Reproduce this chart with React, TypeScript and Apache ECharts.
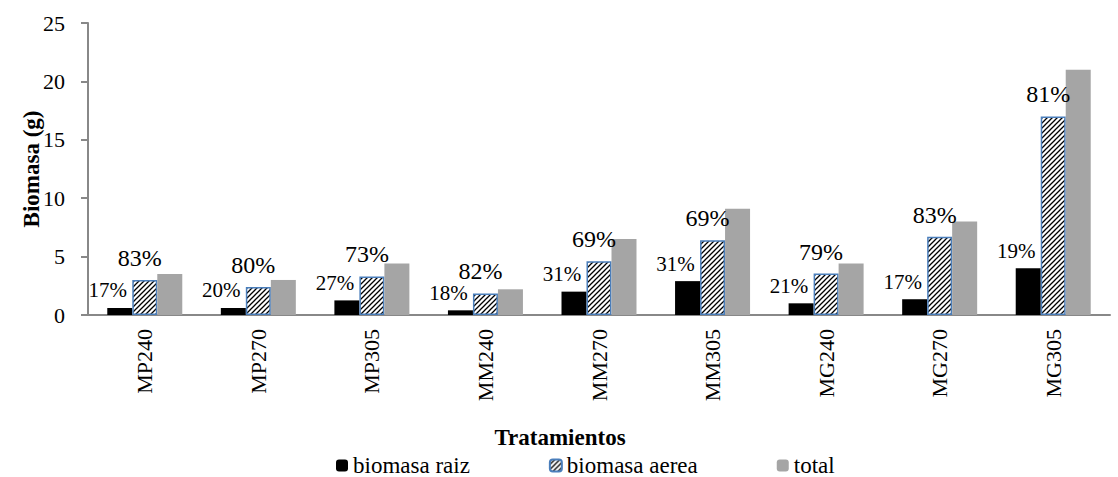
import React, { useEffect, useRef } from "react";
import * as echarts from "echarts";

const categories = ["MP240", "MP270", "MP305", "MM240", "MM270", "MM305", "MG240", "MG270", "MG305"];
const biomasaRaiz = [0.6, 0.6, 1.25, 0.4, 2.0, 2.9, 1.0, 1.35, 4.0];
const biomasaAerea = [3.0, 2.4, 3.3, 1.85, 4.6, 6.4, 3.55, 6.7, 17.0];
const total = [3.5, 3.0, 4.4, 2.2, 6.5, 9.1, 4.4, 8.0, 21.0];
const pctRaiz = ["17%", "20%", "27%", "18%", "31%", "31%", "21%", "17%", "19%"];
const pctAerea = ["83%", "80%", "73%", "82%", "69%", "69%", "79%", "83%", "81%"];
const yTicks = { min: 0, max: 25, interval: 5 };

const FONT = "Liberation Serif";

function makeHatch(): HTMLCanvasElement {
  const c = document.createElement("canvas");
  const s = 5;
  c.width = s;
  c.height = s;
  const ctx = c.getContext("2d")!;
  ctx.fillStyle = "#ffffff";
  ctx.fillRect(0, 0, s, s);
  ctx.strokeStyle = "#000000";
  ctx.lineWidth = 1.3;
  ctx.beginPath();
  ctx.moveTo(-1, s + 1);
  ctx.lineTo(s + 1, -1);
  ctx.moveTo(-1, 1);
  ctx.lineTo(1, -1);
  ctx.moveTo(s - 1, s + 1);
  ctx.lineTo(s + 1, s - 1);
  ctx.stroke();
  return c;
}

export default function App() {
  const ref = useRef<HTMLDivElement>(null);
  useEffect(() => {
    if (!ref.current) return;
    const chart = echarts.init(ref.current, undefined, { renderer: "svg" });
    const hatch = makeHatch();
    const axisColor = "#888888";
    chart.setOption({
      animation: false,
      textStyle: { fontFamily: FONT, color: "#000" },
      grid: { left: 88, top: 23, right: 8, bottom: 162 },
      legend: {
        left: 334,
        top: 452,
        padding: 2,
        itemWidth: 12,
        itemHeight: 12,
        itemGap: 79,
        textStyle: { fontFamily: FONT, fontSize: 23, lineHeight: 20, color: "#000" },
        data: ["biomasa raiz", "biomasa aerea", "total"],
      },
      graphic: [
        {
          type: "text",
          x: 560,
          y: 437,
          style: {
            text: "Tratamientos",
            fontFamily: FONT,
            fontWeight: "bold",
            fontSize: 23,
            fill: "#000",
            textAlign: "center",
            textVerticalAlign: "middle",
          },
        },
        {
          type: "text",
          x: 31,
          y: 169,
          rotation: Math.PI / 2,
          style: {
            text: "Biomasa (g)",
            fontFamily: FONT,
            fontWeight: "bold",
            fontSize: 23,
            fill: "#000",
            textAlign: "center",
            textVerticalAlign: "middle",
          },
        },
      ],
      xAxis: {
        type: "category",
        data: categories,
        axisLine: { lineStyle: { color: axisColor, width: 2 } },
        axisTick: { show: false },
        axisLabel: {
          rotate: 90,
          margin: 14,
          fontFamily: FONT,
          fontSize: 22,
          color: "#000",
        },
      },
      yAxis: {
        type: "value",
        min: yTicks.min,
        max: yTicks.max,
        interval: yTicks.interval,
        splitLine: { show: false },
        axisLine: { show: true, lineStyle: { color: axisColor, width: 2 } },
        axisTick: { show: true, length: 7, lineStyle: { color: axisColor, width: 2 } },
        axisLabel: { margin: 23, fontFamily: FONT, fontSize: 22, color: "#000" },
      },
      series: [
        {
          name: "biomasa raiz",
          type: "bar",
          data: biomasaRaiz,
          barWidth: 25,
          barGap: "0%",
          itemStyle: { color: "#000000" },
          label: {
            show: true,
            position: "top",
            distance: 7,
            offset: [-12, 0],
            fontFamily: FONT,
            fontSize: 21,
            color: "#000",
            formatter: (p: any) => pctRaiz[p.dataIndex],
          },
        },
        {
          name: "biomasa aerea",
          type: "bar",
          data: biomasaAerea,
          barWidth: 25,
          barGap: "0%",
          itemStyle: {
            color: { image: hatch, repeat: "repeat" },
            borderColor: "#4a7ebb",
            borderWidth: 1.5,
          },
          label: {
            show: true,
            position: "top",
            distance: 10,
            offset: [-5, 0],
            fontFamily: FONT,
            fontSize: 24,
            color: "#000",
            formatter: (p: any) => pctAerea[p.dataIndex],
          },
        },
        {
          name: "total",
          type: "bar",
          data: total,
          barWidth: 25,
          barGap: "0%",
          itemStyle: { color: "#a5a5a5" },
        },
      ],
    });
    return () => chart.dispose();
  }, []);
  return (
    <div
      ref={ref}
      style={{ position: "fixed", left: 0, top: 0, width: 1118, height: 477, background: "#fff" }}
    />
  );
}
